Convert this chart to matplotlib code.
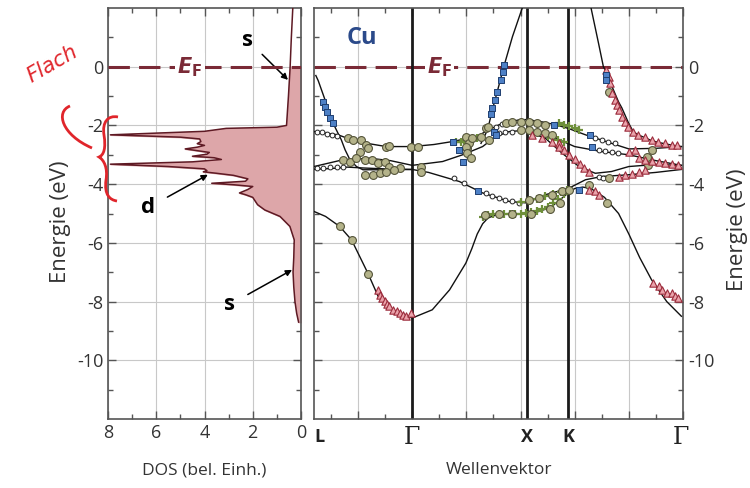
import numpy as np
import matplotlib.pyplot as plt
from matplotlib.path import Path
from matplotlib.patches import PathPatch

plt.rcParams['font.family'] = ['Open Sans', 'DejaVu Sans']

# --- DOS (left panel) ---
dos_energy = [2.0, 1.0, 0.0, -1.0, -2.0, -2.06, -2.1, -2.2, -2.32, -2.40, -2.46, -2.55,
              -2.62, -2.68, -2.74, -2.8, -2.86, -2.92, -2.98, -3.05, -3.1, -3.16, -3.24,
              -3.32, -3.40, -3.48, -3.54, -3.58, -3.63, -3.70, -3.82, -3.9, -3.97, -4.02,
              -4.08, -4.18, -4.3, -4.36, -4.45, -4.7, -4.88, -5.1, -5.44, -5.9, -6.5,
              -7.0, -7.5, -8.0, -8.4, -8.7]
dos_value = [0.34, 0.40, 0.45, 0.52, 0.60, 1.0, 3.1, 4.0, 7.9, 5.0, 4.2, 4.15,
             4.3, 4.0, 4.3, 4.8, 4.3, 3.8, 3.9, 4.5, 3.6, 3.3, 4.5,
             7.9, 5.5, 4.0, 3.9, 4.05, 3.5, 2.8, 2.2, 2.3, 3.7, 2.8,
             2.0, 2.2, 2.55, 2.3, 2.0, 1.8, 1.5, 0.87, 0.46, 0.28, 0.30,
             0.33, 0.30, 0.25, 0.18, 0.10]

# --- band structure (right panel), k positions of symmetry points ---
k_points = [-1.814, 0.0, 2.115, 2.88, 4.97]
k_labels = ['L', 'Γ', 'X', 'K', 'Γ']

band1_k = [-1.814, -1.6, -1.34, -1.12, -0.82, -0.63, -0.29, 0.0, 0.37, 0.69, 0.99, 1.1, 1.2, 1.3,
           1.4, 1.55, 1.7, 2.115, 2.3, 2.55, 2.75, 2.88, 3.0, 3.15, 3.3, 3.55, 3.81, 4.0, 4.2, 4.42,
           4.7, 4.97]
band1_e = [-4.93, -5.1, -5.44, -5.9, -7.03, -7.82, -8.39, -8.56, -8.28, -7.6, -6.69, -6.2, -5.7, -5.35,
           -5.15, -5.05, -5.02, -5.0, -4.95, -4.8, -4.5, -4.3, -4.15, -4.1, -4.15, -4.45, -5.0, -5.7, -6.5,
           -7.26, -8.0, -8.5]
band2_k = [-1.814, -1.37, -1.03, -0.48, 0.0, 0.4, 0.74, 1.18, 1.42, 1.6, 1.97, 2.115, 2.4, 2.65,
           2.88, 3.2, 3.68, 4.0, 4.5, 4.97]
band2_e = [-2.21, -2.32, -2.55, -2.72, -2.72, -2.65, -2.55, -2.38, -2.15, -1.98, -1.81, -1.8, -1.88,
           -1.98, -2.1, -2.32, -2.61, -2.8, -2.78, -2.72]
band3_k = [-1.78, -1.735, -1.61, -1.46, -1.37, -1.31, -1.24, -1.15, -1.03, -0.91, -0.5, 0.0, 0.3,
           0.87, 1.3, 1.79, 2.115, 2.46, 2.89, 3.2, 3.5, 4.0, 4.5, 4.97]
band3_e = [-0.3, -0.48, -1.13, -1.93, -2.27, -2.49, -2.83, -3.17, -3.40, -3.51, -3.51, -3.5, -3.6,
           -3.91, -4.3, -4.59, -4.64, -4.36, -4.14, -3.85, -3.74, -3.68, -3.6, -3.5]
band4_k = [-1.814, -1.28, -0.78, -0.4, 0.0, 0.56, 0.93, 1.3, 1.54, 1.79, 2.115, 2.58, 3.0, 3.5,
           4.0, 4.5, 4.97]
band4_e = [-3.40, -3.17, -3.12, -3.2, -3.36, -3.23, -3.0, -2.72, -2.38, -2.21, -2.16, -2.38, -2.72,
           -2.89, -3.0, -3.2, -3.36]
band5_k = [-1.814, -1.5, -1.2, -0.9, -0.5, 0.0]
band5_e = [-3.49, -3.47, -3.42, -3.45, -3.48, -3.5]
band6_k = [2.115, 2.46, 2.77, 3.08, 3.38, 3.68, 4.0, 4.5, 4.97]
band6_e = [-2.2, -2.44, -2.95, -3.40, -3.63, -3.57, -3.40, -3.33, -3.36]
band7_k = [1.27, 1.36, 1.42, 1.48, 1.57, 1.70, 1.85, 2.03, 2.08]
band7_e = [-2.61, -2.27, -1.93, -1.47, -0.85, 0.06, 1.02, 1.99, 2.2]
band8_k = [3.28, 3.31, 3.44, 3.53, 3.63, 3.69, 3.81, 3.87, 3.99, 4.08, 4.17, 4.3, 4.42, 4.6, 4.79, 4.97]
band8_e = [2.2, 1.93, 0.80, 0.0, -0.34, -0.68, -1.2, -1.40, -1.9, -2.21, -2.32, -2.42, -2.52, -2.6, -2.67, -2.72]

# --- measured points ---
square_k = [-1.64, -1.61, -1.58, -1.51, -1.47, 1.70, 1.67, 1.64, 1.57, 1.53, 1.48, 1.45,
            0.75, 0.87, 0.93, 1.51, 1.54, 1.21, 2.62, 3.29, 3.32, 3.08, 3.57, 3.58]
square_e = [-1.19, -1.36, -1.53, -1.76, -1.93, 0.06, -0.17, -0.45, -0.85, -1.13, -1.42, -1.6,
            -2.55, -2.83, -3.23, -2.21, -2.32, -4.25, -1.98, -2.32, -2.72, -4.19, -0.28, -0.45]

olive_k = [-1.18, -1.09, -0.94, -0.97, -0.85, -0.82, -0.48, -0.42, -0.02, 0.10,
           -1.28, -1.15, -1.03, -0.88, -0.75, -0.63, -0.51, -0.42, -0.23, -0.88, -0.72, -0.60,
           -0.48, -0.33, 0.17, 0.17, -1.34, -1.12, -0.82,
           0.99, 1.02, 1.05, 1.11, 1.27, 1.36, 1.39, 1.42, 0.99, 1.02, 1.08,
           1.73, 1.85, 2.0, 2.16, 2.31, 2.46, 2.0, 2.16, 2.31, 2.46, 2.58,
           1.35, 1.6, 1.85, 2.2, 2.55, 2.72, 2.16, 2.34, 2.58, 2.77, 2.89,
           4.42, 4.36, 4.36, 4.36, 3.26, 3.63, 3.60, 3.63, 4.33]
olive_e = [-2.44, -2.49, -2.49, -2.89, -2.66, -2.78, -2.74, -2.70, -2.74, -2.74,
           -3.17, -3.23, -3.12, -3.17, -3.17, -3.29, -3.23, -3.40, -3.46, -3.68, -3.68, -3.63,
           -3.57, -3.51, -3.40, -3.57, -5.44, -5.9, -7.05,
           -2.38, -2.78, -2.61, -2.44, -2.38, -2.10, -2.04, -2.49, -2.72, -2.95, -3.12,
           -1.93, -1.87, -1.87, -1.87, -1.93, -1.98, -2.15, -2.15, -2.21, -2.27, -2.32,
           -5.05, -5.0, -5.0, -5.0, -4.85, -4.65, -4.53, -4.48, -4.36, -4.25, -4.19,
           -2.83, -3.23, -3.34, -3.12, -4.02, -3.80, -4.65, -0.85, -3.06]

open_k = [-1.76, -1.67, -1.58, -1.49, -1.39, -1.76, -1.64, -1.51, -1.39, -1.27,
          0.78, 0.96, 1.36, 1.48, 1.6, 1.72, 1.85, 1.97, 1.55, 1.65, 1.6, 1.72, 1.85,
          3.38, 3.5, 3.62, 3.75, 3.44, 3.56, 3.68, 3.8, 3.44, 3.53]
open_e = [-2.21, -2.24, -2.29, -2.32, -2.36, -3.46, -3.44, -3.42, -3.41, -3.40,
          -3.80, -3.97, -4.31, -4.42, -4.48, -4.55, -4.59, -4.65, -2.05, -1.95, -2.27, -2.24, -2.21,
          -2.44, -2.5, -2.56, -2.61, -2.83, -2.87, -2.91, -2.95, -3.76, -3.80]

tri_k = [-0.63, -0.60, -0.55, -0.51, -0.47, -0.42, -0.36, -0.29, -0.23, -0.17, -0.11, -0.02,
         4.45, 4.55, 4.61, 4.70, 4.79, 4.85, 4.91,
         3.57, 3.63, 3.66, 3.69, 3.75, 3.78, 3.81, 3.87, 3.93, 3.99, 4.08, 4.17, 4.30, 4.42,
         4.54, 4.67, 4.79, 4.88,
         2.22, 2.40, 2.58, 2.71, 2.71, 2.8, 2.9, 3.0, 3.1, 3.18, 3.26,
         4.0, 4.12, 4.18, 4.3, 4.42, 4.55, 4.67, 4.79, 4.91, 3.81, 3.93, 4.06, 4.18, 4.30,
         3.26, 3.38, 3.44]
tri_e = [-7.60, -7.77, -7.88, -7.99, -8.07, -8.14, -8.28, -8.33, -8.39, -8.45, -8.50, -8.39,
         -7.37, -7.48, -7.60, -7.71, -7.71, -7.82, -7.88,
         -0.11, -0.34, -0.56, -0.90, -1.13, -1.30, -1.47, -1.70, -1.87, -2.04, -2.21, -2.32, -2.38, -2.49,
         -2.55, -2.61, -2.66, -2.66,
         -2.32, -2.44, -2.55, -2.61, -2.72, -2.85, -3.0, -3.15, -3.3, -3.45, -3.57,
         -2.89, -2.83, -3.12, -3.18, -3.22, -3.25, -3.28, -3.30, -3.34, -3.74, -3.70, -3.66, -3.6, -3.51,
         -4.19, -4.25, -4.36]

cross_k = [0.81, 0.90, 0.96, 1.12, 1.2,
           1.30, 1.40, 1.50, 1.60, 1.70, 1.80, 1.90, 2.0, 2.1, 2.2, 2.3, 2.4, 2.5, 2.6, 2.7, 2.8,
           2.0, 2.15, 2.3, 2.45, 2.6, 2.75, 2.85,
           2.71, 2.8, 2.9, 3.0, 3.08, 2.5, 2.6, 2.7, 2.8]
cross_e = [-2.55, -2.55, -2.49, -2.45, -2.42,
           -5.12, -5.05, -5.02, -5.0, -5.0, -5.0, -5.0, -5.0, -4.98, -4.95, -4.9, -4.85, -4.78, -4.65, -4.5, -4.35,
           -4.62, -4.58, -4.5, -4.42, -4.35, -4.26, -4.2,
           -1.93, -1.97, -2.02, -2.08, -2.15, -2.35, -2.4, -2.48, -2.55]

ef_color = '#7a2a36'
grid_color = '#c8c8c8'
tick_color = '#333333'
ef_text = r'$\boldsymbol{E}_\mathbf{F}$'

fig = plt.figure(figsize=(7.5, 4.88), dpi=100)
ax1 = fig.add_axes([108 / 750, 69 / 488, 193 / 750, 411 / 488])
ax2 = fig.add_axes([314 / 750, 69 / 488, 369 / 750, 411 / 488])

# ---------- left: DOS ----------
E = np.array(dos_energy)
D = np.array(dos_value)
below = E <= 0
ax1.fill_betweenx(E[below], 0, D[below], color='#dda6a9', zorder=2)
ax1.plot(D, E, color='#5e1a24', lw=1.1, zorder=3)
ax1.axhline(0, color=ef_color, lw=2.2, dashes=(7, 3), zorder=4)
ax1.text(4.6, 0, ef_text, color=ef_color, fontsize=15, ha='center', va='center', zorder=5,
         bbox=dict(facecolor='white', edgecolor='none', pad=1.5))

ax1.set_xlim(8, 0)
ax1.set_ylim(-12, 2)
ax1.set_xticks([8, 6, 4, 2, 0])
ax1.set_xticks([7, 5, 3, 1], minor=True)
ax1.set_yticks(range(-10, 1, 2))
ax1.set_yticks(range(-11, 2, 2), minor=True)
ax1.set_yticklabels([str(v) for v in range(-10, 1, 2)])
ax1.grid(True, which='major', color=grid_color, lw=0.8, zorder=0)
ax1.set_axisbelow(True)

ax1.annotate('s', xy=(0.54, -0.45), xytext=(2.2, 0.9), fontsize=16, fontweight='bold',
             ha='center', va='center',
             arrowprops=dict(arrowstyle='-|>', color='black', lw=1.1, mutation_scale=9,
                             shrinkA=6, shrinkB=0))
ax1.annotate('d', xy=(3.86, -3.68), xytext=(6.35, -4.81), fontsize=16, fontweight='bold',
             ha='center', va='center',
             arrowprops=dict(arrowstyle='-|>', color='black', lw=1.1, mutation_scale=9,
                             shrinkA=8, shrinkB=0))
ax1.annotate('s', xy=(0.37, -6.92), xytext=(2.95, -8.1), fontsize=16, fontweight='bold',
             ha='center', va='center',
             arrowprops=dict(arrowstyle='-|>', color='black', lw=1.1, mutation_scale=9,
                             shrinkA=8, shrinkB=0))

ax1.set_ylabel('Energie (eV)', fontsize=16, color='#333333')
ax1.yaxis.set_label_coords(-0.19, 0.48)
ax1.set_xlabel('DOS (bel. Einh.)', fontsize=12.5, color='#333333')
ax1.xaxis.set_label_coords(0.5, -0.105)

# ---------- right: band structure ----------
ax2.axhline(0, color=ef_color, lw=2.2, dashes=(7, 3), zorder=2)
ax2.text(0.5, 0, ef_text, color=ef_color, fontsize=15, ha='center', va='center',
         zorder=5, bbox=dict(facecolor='white', edgecolor='none', pad=1.5))
for kp in k_points[1:4]:
    ax2.axvline(kp, color='#1a1a1a', lw=2.0, zorder=2.5)

for bk, be in [(band1_k, band1_e), (band2_k, band2_e), (band3_k, band3_e),
               (band4_k, band4_e), (band5_k, band5_e), (band6_k, band6_e),
               (band7_k, band7_e), (band8_k, band8_e)]:
    ax2.plot(bk, be, color='#111111', lw=1.0, zorder=3)

ax2.scatter(open_k, open_e, s=12, facecolor='white', edgecolor='#222222', lw=0.7, zorder=4)
ax2.scatter(cross_k, cross_e, s=30, marker='+', color='#6e8f3a', lw=1.6, zorder=4)
ax2.scatter(olive_k, olive_e, s=32, facecolor='#b4b38a', edgecolor='#55553a', lw=0.8, zorder=5)
ax2.scatter(tri_k, tri_e, s=28, marker='^', facecolor='#eaa3ab', edgecolor='#9c2c3c', lw=0.8, zorder=5)
ax2.scatter(square_k, square_e, s=14, marker='s', facecolor='#4d80c6', edgecolor='#1f3f70',
            lw=0.7, zorder=6)

ax2.text(-0.93, 0.98, 'Cu', color='#2b4a8a', fontsize=17, fontweight='bold', ha='center',
         va='center')

ax2.set_xlim(k_points[0], k_points[-1])
ax2.set_ylim(-12, 2)
ax2.set_xticks(range(-1, 6))
ax2.set_xticks(np.arange(-1.5, 5.0, 0.5), minor=True)
ax2.set_xticklabels([])
ax2.set_yticks(range(-10, 1, 2))
ax2.set_yticks(range(-11, 2, 2), minor=True)
ax2.set_yticklabels([str(v) for v in range(-10, 1, 2)])
ax2.grid(True, which='major', color=grid_color, lw=0.8, zorder=0)
ax2.set_axisbelow(True)

trans = ax2.get_xaxis_transform()
for kp, lab in zip(k_points, k_labels):
    if lab == 'Γ':
        ax2.text(kp, -0.045, lab, transform=trans, ha='center', va='center', fontsize=17,
                 family='DejaVu Serif', color='#222222')
    elif lab == 'L':
        ax2.text(kp, -0.045, lab, transform=trans, ha='left', va='center', fontsize=13,
                 fontweight='bold', color='#222222')
    else:
        ax2.text(kp, -0.045, lab, transform=trans, ha='center', va='center', fontsize=13,
                 fontweight='bold', color='#222222')

ax2.yaxis.set_label_position('right')
ax2.set_ylabel('Energie (eV)', fontsize=16, color='#333333')
ax2.yaxis.set_label_coords(1.12, 0.46)
ax2.set_xlabel('Wellenvektor', fontsize=12.5, color='#333333')
ax2.xaxis.set_label_coords(0.5, -0.105)

for ax in (ax1, ax2):
    for sp in ax.spines.values():
        sp.set_color('#555555')
        sp.set_linewidth(1.2)
    ax.tick_params(which='both', direction='in', top=True, bottom=True, left=True, right=True,
                   colors='#555555', labelcolor=tick_color, labelsize=13)
    ax.tick_params(which='major', length=6, width=1)
    ax.tick_params(which='minor', length=3.5, width=1)
ax2.tick_params(labelleft=False, labelright=True)

# handwritten red notes
red = '#e0252b'
fig.text(52 / 750, 1 - 64 / 488, 'Flach', color=red, fontsize=15, rotation=30,
         ha='center', va='center', style='italic', family='DejaVu Sans')


def fig_pt(x, y):
    return (x / 750, 1 - y / 488)


brace = Path([fig_pt(118, 117), fig_pt(108, 115), fig_pt(102, 122), fig_pt(104, 135),
              fig_pt(106, 148), fig_pt(104, 155), fig_pt(99, 157),
              fig_pt(104, 160), fig_pt(108, 168), fig_pt(106, 180),
              fig_pt(104, 195), fig_pt(110, 200), fig_pt(117, 201)],
             [Path.MOVETO] + [Path.CURVE4] * 12)
paren = Path([fig_pt(70, 106), fig_pt(55, 112), fig_pt(62, 135), fig_pt(92, 148)],
             [Path.MOVETO, Path.CURVE4, Path.CURVE4, Path.CURVE4])
for p in (brace, paren):
    fig.add_artist(PathPatch(p, facecolor='none', edgecolor=red, lw=2,
                             transform=fig.transFigure))

fig.savefig('out.png', dpi=100)
